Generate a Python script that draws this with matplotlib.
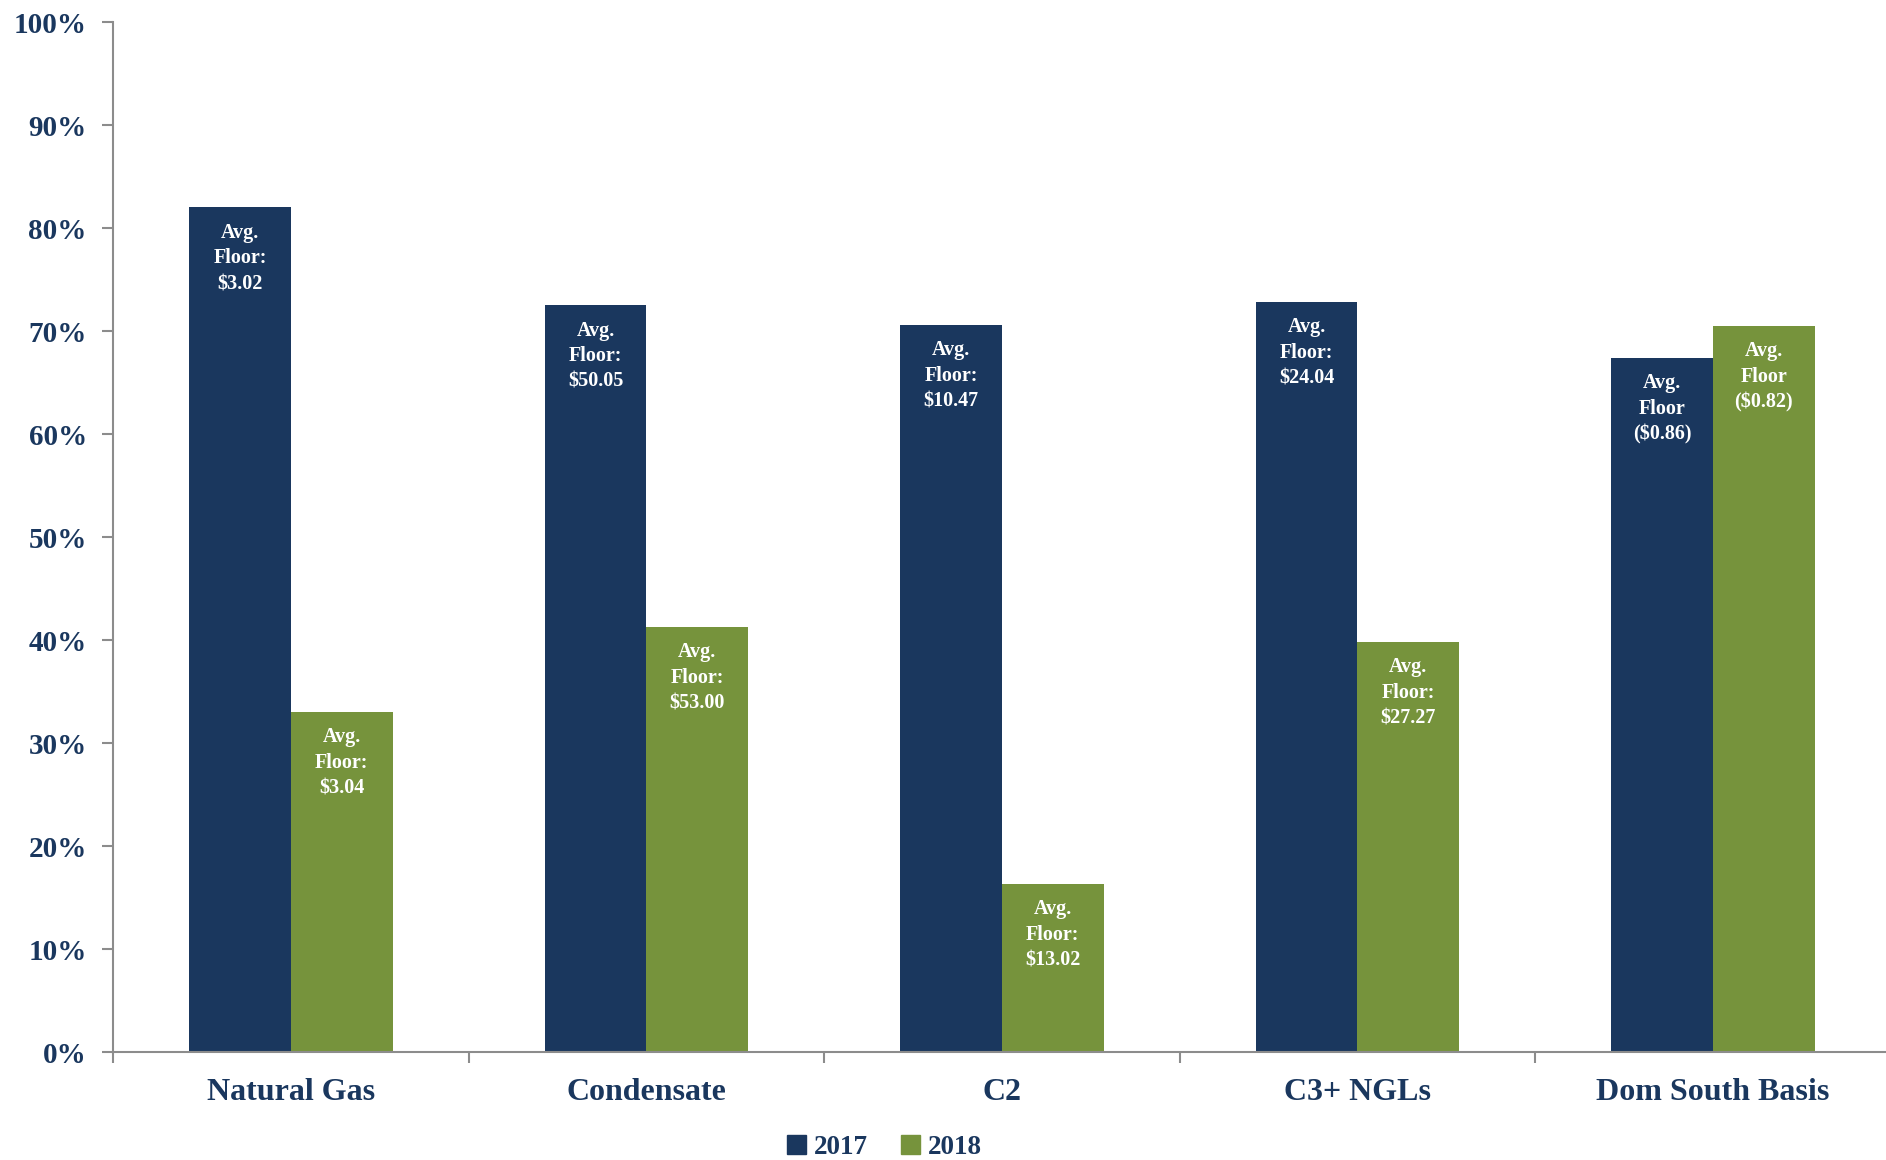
import matplotlib

matplotlib.use("Agg")
import matplotlib.pyplot as plt
import numpy as np
from matplotlib.patches import Patch

# Data
categories = ["Natural Gas", "Condensate", "C2", "C3+ NGLs", "Dom South Basis"]
pct_2017 = [82.0, 72.5, 70.6, 72.8, 67.4]
pct_2018 = [33.0, 41.3, 16.3, 39.8, 70.5]
labels_2017 = ["Avg.\nFloor:\n$3.02", "Avg.\nFloor:\n$50.05", "Avg.\nFloor:\n$10.47",
               "Avg.\nFloor:\n$24.04", "Avg.\nFloor\n($0.86)"]
labels_2018 = ["Avg.\nFloor:\n$3.04", "Avg.\nFloor:\n$53.00", "Avg.\nFloor:\n$13.02",
               "Avg.\nFloor:\n$27.27", "Avg.\nFloor\n($0.82)"]
y_ticks = list(range(0, 101, 10))

NAVY = "#1a375e"
GREEN = "#76933c"
AXIS = "#8c8c8c"

plt.rcParams["font.family"] = ["Liberation Serif", "DejaVu Serif"]
plt.rcParams["font.weight"] = "bold"

fig = plt.figure(figsize=(18.86, 11.6), dpi=100)
ax = fig.add_axes([0.06, 0.093, 0.9425, 0.888])

x = np.arange(len(categories))
w = 0.286
b17 = ax.bar(x - w / 2, pct_2017, w, color=NAVY, label="2017")
b18 = ax.bar(x + w / 2, pct_2018, w, color=GREEN, label="2018")

for bars, texts in ((b17, labels_2017), (b18, labels_2018)):
    for rect, txt in zip(bars, texts):
        ax.annotate(txt, (rect.get_x() + rect.get_width() / 2, rect.get_height()),
                    xytext=(0, -11), textcoords="offset points",
                    ha="center", va="top", color="white", fontsize=14.5,
                    fontweight="bold", linespacing=1.38)

ax.set_xlim(-0.5, len(categories) - 0.5)
ax.set_ylim(0, 100)
ax.set_yticks(y_ticks)
ax.set_yticklabels([f"{v}%" for v in y_ticks])
ax.set_xticks(x)
ax.set_xticklabels(categories)
ax.set_xticks(np.arange(-0.5, len(categories), 1.0), minor=True)

ax.tick_params(axis="y", length=8, width=1.5, color=AXIS, pad=11,
               labelsize=21, labelcolor=NAVY)
ax.tick_params(axis="x", which="major", length=0, pad=18.5,
               labelsize=23, labelcolor=NAVY)
ax.tick_params(axis="x", which="minor", length=8, width=1.5, color=AXIS)

for side in ("top", "right"):
    ax.spines[side].set_visible(False)
for side in ("left", "bottom"):
    ax.spines[side].set_color(AXIS)
    ax.spines[side].set_linewidth(1.5)

handles = [Patch(color=NAVY, label="2017"), Patch(color=GREEN, label="2018")]
leg = fig.legend(handles=handles, loc="center", bbox_to_anchor=(0.469, 0.011),
                 ncol=2, frameon=False, fontsize=19.5, handlelength=0.7,
                 handleheight=0.7, handletextpad=0.3, columnspacing=1.2)
for t in leg.get_texts():
    t.set_color(NAVY)
    t.set_fontweight("bold")

fig.savefig("out.png", dpi=100)
